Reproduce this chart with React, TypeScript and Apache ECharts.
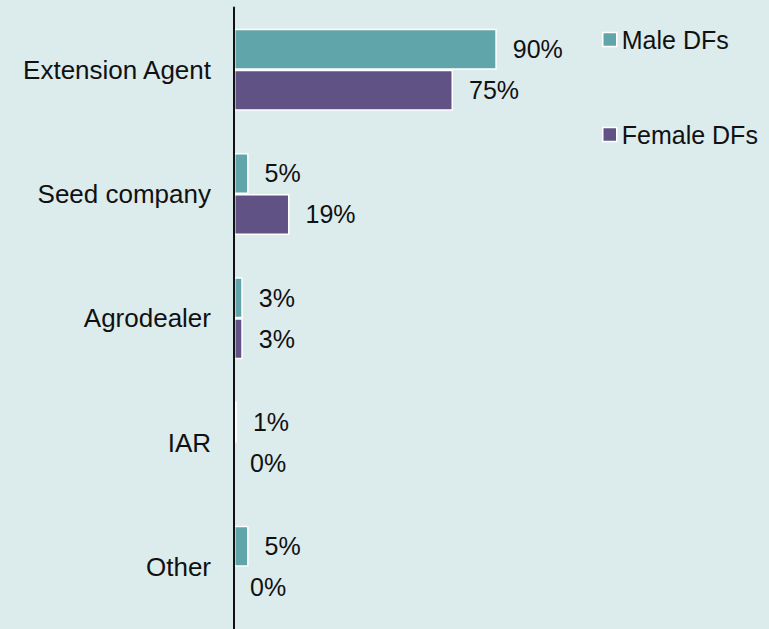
import React, { useEffect, useRef } from "react";
import * as echarts from "echarts";

const categories = ["Extension Agent", "Seed company", "Agrodealer", "IAR", "Other"];
const maleValues = [90, 5, 3, 1, 5];
const femaleValues = [75, 19, 3, 0, 0];
const seriesNames = ["Male DFs", "Female DFs"];

export default function App() {
  const ref = useRef<HTMLDivElement>(null);
  useEffect(() => {
    if (!ref.current) return;
    const chart = echarts.init(ref.current, undefined, { renderer: "svg" });
    const font = "'Liberation Sans', Arial, Helvetica, sans-serif";
    const label = {
      show: true,
      position: "right",
      distance: 16,
      formatter: "{c}%",
      color: "#111",
      fontSize: 25,
      fontFamily: font,
    };
    const toItems = (vals: number[]) =>
      vals.map((v) => (v === 0 ? { value: v, itemStyle: { borderWidth: 0 } } : v));
    chart.setOption({
      animation: false,
      backgroundColor: "#dcebec",
      textStyle: { fontFamily: font },
      grid: { left: 234, top: 7.5, width: 292, height: 625, containLabel: false },
      legend: {
        orient: "vertical",
        left: 602,
        top: 27,
        padding: 0,
        itemWidth: 14,
        itemHeight: 14,
        itemGap: 70,
        textStyle: { fontSize: 25, color: "#111", fontFamily: font },
        icon: "rect",
        data: seriesNames.map((n) => ({ name: n, itemStyle: { borderColor: "#fff", borderWidth: 1.5 } })),
      },
      xAxis: {
        type: "value",
        min: 0,
        max: 100,
        show: false,
      },
      yAxis: {
        type: "category",
        data: categories,
        inverse: true,
        z: 5,
        axisLine: { show: true, lineStyle: { color: "#111", width: 2 } },
        axisTick: { show: false },
        axisLabel: { fontSize: 26, color: "#111", margin: 23, fontFamily: font },
      },
      series: [
        {
          name: seriesNames[0],
          type: "bar",
          data: toItems(maleValues),
          barGap: "0%",
          barCategoryGap: "34%",
          itemStyle: { color: "#5fa5a9", borderColor: "#fff", borderWidth: 1.5 },
          label,
        },
        {
          name: seriesNames[1],
          type: "bar",
          data: toItems(femaleValues),
          barGap: "0%",
          barCategoryGap: "34%",
          itemStyle: { color: "#615286", borderColor: "#fff", borderWidth: 1.5 },
          label,
        },
      ],
    });
    return () => chart.dispose();
  }, []);
  return (
    <div
      ref={ref}
      style={{ position: "fixed", left: 0, top: 0, width: 769, height: 629 }}
    />
  );
}
